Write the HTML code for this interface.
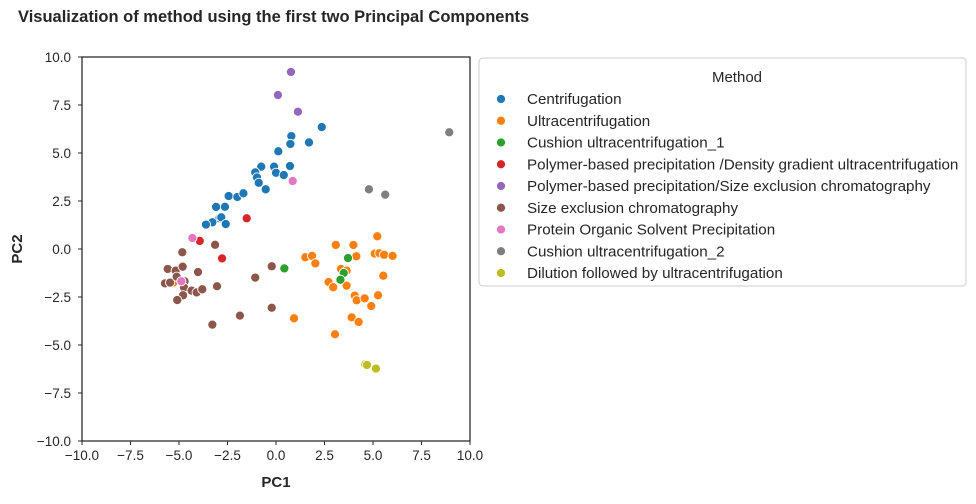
<!DOCTYPE html>
<html><head><meta charset="utf-8"><style>
body{margin:0;background:#fff;font-family:"Liberation Sans",sans-serif}
svg text{font-family:"Liberation Sans",sans-serif;fill:#262626}
</style></head><body>
<svg id="chart" width="976" height="499">
<text x="18" y="22" font-size="16.5" font-weight="bold">Visualization of method using the first two Principal Components</text>
<g id="axes"></g><g id="pts"></g><g id="legend"></g>
</svg>
<script>
const methods=["Centrifugation","Ultracentrifugation","Cushion ultracentrifugation_1","Polymer-based precipitation /Density gradient ultracentrifugation","Polymer-based precipitation/Size exclusion chromatography","Size exclusion chromatography","Protein Organic Solvent Precipitation","Cushion ultracentrifugation_2","Dilution followed by ultracentrifugation"];
const colors=["#1f77b4","#ff7f0e","#2ca02c","#d62728","#9467bd","#8c564b","#e377c2","#7f7f7f","#bcbd22"];
const xTicks=[-10,-7.5,-5,-2.5,0,2.5,5,7.5,10];
const yTicks=[-10,-7.5,-5,-2.5,0,2.5,5,7.5,10];
const pc1=[2.36,0.79,0.74,1.70,0.12,-0.76,-0.10,0.72,-1.07,0.0,0.40,-0.98,-0.89,-0.53,-2.44,-1.99,-1.68,-3.09,-2.63,-2.92,-2.82,-3.28,-3.61,-2.59,
5.22,3.08,3.99,1.51,1.86,2.03,4.14,5.09,5.33,5.57,6.01,3.35,3.64,5.53,2.71,2.95,3.64,4.06,4.16,4.57,5.26,4.91,0.93,3.90,4.26,3.04,-5.29,
0.43,3.71,3.49,3.32,
-1.51,-3.93,-2.78,
0.77,0.10,1.13,
-3.14,-4.83,-5.58,-5.17,-4.81,-4.02,-0.22,-1.07,-5.72,-5.46,-5.12,-4.71,-4.74,-4.35,-4.09,-3.80,-3.04,-4.79,-5.09,-0.22,-1.86,-3.28,
0.86,-4.31,-4.88,
8.93,4.79,5.63,
4.60,4.69,5.15];
const pc2=[6.35,5.88,5.47,5.55,5.09,4.29,4.29,4.32,3.99,3.97,3.85,3.73,3.45,3.11,2.76,2.71,2.90,2.19,2.20,1.60,1.65,1.39,1.27,1.30,
0.66,0.21,0.21,-0.43,-0.36,-0.75,-0.38,-0.24,-0.22,-0.30,-0.36,-1.04,-1.13,-1.39,-1.72,-1.99,-1.91,-2.43,-2.67,-2.57,-2.41,-2.97,-3.61,-3.56,-3.80,-4.44,-1.75,
-1.01,-0.47,-1.25,-1.60,
1.60,0.42,-0.49,
9.22,8.02,7.15,
0.22,-0.17,-1.04,-1.13,-0.92,-1.20,-0.90,-1.49,-1.79,-1.75,-1.44,-1.68,-2.01,-2.17,-2.26,-2.10,-1.94,-2.41,-2.66,-3.06,-3.47,-3.94,
3.54,0.57,-1.68,
6.08,3.11,2.83,
-6.01,-6.04,-6.23];
const group=[0,0,0,0,0,0,0,0,0,0,0,0,0,0,0,0,0,0,0,0,0,0,0,0,
1,1,1,1,1,1,1,1,1,1,1,1,1,1,1,1,1,1,1,1,1,1,1,1,1,1,1,
2,2,2,2,3,3,3,4,4,4,
5,5,5,5,5,5,5,5,5,5,5,5,5,5,5,5,5,5,5,5,5,5,
6,6,6,7,7,7,8,8,8];
const NS="http://www.w3.org/2000/svg";
const L=82,R=470,T=57,B=441;
const xs=v=>L+(v+10)/20*(R-L), ys=v=>B-(v+10)/20*(B-T);
function mk(tag,at,parent,txt){const e=document.createElementNS(NS,tag);for(const k in at)e.setAttribute(k,at[k]);if(txt!==undefined)e.textContent=txt;parent.appendChild(e);return e;}
const ax=document.getElementById('axes');
const frame=mk('rect',{x:L,y:T,width:R-L,height:B-T,fill:'none',stroke:'#262626','stroke-width':1.25},ax);


xTicks.forEach(t=>{mk('line',{x1:xs(t),x2:xs(t),y1:B,y2:B+4,stroke:'#262626'},ax);
const e=mk('text',{x:xs(t),y:B+19,'font-size':13.5,'text-anchor':'middle'},ax,t.toFixed(1).replace('-','\u2212'));

});
yTicks.forEach(t=>{mk('line',{x1:L-4,x2:L,y1:ys(t),y2:ys(t),stroke:'#262626'},ax);
const e=mk('text',{x:L-11,y:ys(t)+5,'font-size':13.5,'text-anchor':'end'},ax,t.toFixed(1).replace('-','\u2212'));

});
let e=mk('text',{x:276,y:487,'font-size':15,'font-weight':'bold','text-anchor':'middle'},ax,'PC1');


e=mk('text',{x:22,y:249,'font-size':15,'font-weight':'bold','text-anchor':'middle',transform:'rotate(-90 22 249)'},ax,'PC2');


const pg=document.getElementById('pts');
pc1.forEach((v,i)=>{const c=mk('circle',{cx:xs(v),cy:ys(pc2[i]),r:4.6,fill:colors[group[i]],stroke:'#fff','stroke-width':0.9},pg);

});
const lg=document.getElementById('legend');
const box=mk('rect',{x:479,y:58,width:487,height:228,rx:4,fill:'#fff',stroke:'#ccc'},lg);


e=mk('text',{x:737,y:82,'font-size':15,'text-anchor':'middle'},lg,'Method');


methods.forEach((m,i)=>{const y=99+i*21.75;
const c=mk('circle',{cx:501,cy:y,r:4.6,fill:colors[i],stroke:'#fff','stroke-width':0.9},lg);


const t=mk('text',{x:527,y:y+5,'font-size':15.2},lg,m);

});
</script>
</body></html>
